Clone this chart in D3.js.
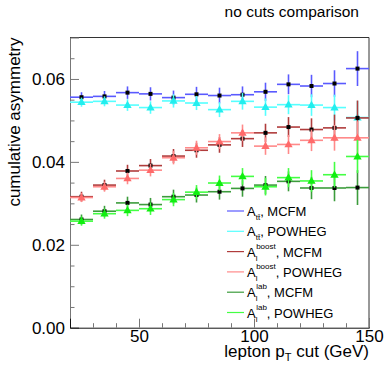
<!DOCTYPE html>
<html>
<head>
<meta charset="utf-8">
<script src="https://cdn.jsdelivr.net/npm/d3@7"></script>
<style>
	body { margin: 0; background: #fff; }
	svg text { font-family: "Liberation Sans", Arial, sans-serif; fill: #000; }
</style>
</head>
<body>
<div id="chart"></div>
<script>
// lepton pT cut bins (GeV), each bin is 10 GeV wide
var cuts = [25, 35, 45, 55, 65, 75, 85, 95, 105, 115, 125, 135, 145];
var binHalf = 5;

// cumulative asymmetries
var ttMCFM      = [0.0556, 0.0558, 0.0567, 0.0564, 0.0555, 0.0563, 0.0560, 0.0562, 0.0569, 0.0587, 0.0583, 0.0589, 0.0625];
var ttPOWHEG    = [0.0544, 0.0546, 0.0537, 0.0531, 0.0547, 0.0542, 0.0526, 0.0546, 0.0532, 0.0538, 0.0537, 0.0531, 0.0507];
var boostMCFM   = [0.0316, 0.0344, 0.0378, 0.0391, 0.0414, 0.0428, 0.0441, 0.0456, 0.0470, 0.0484, 0.0478, 0.0482, 0.0506];
var boostPOWHEG = [0.0314, 0.0340, 0.0360, 0.0380, 0.0410, 0.0434, 0.0449, 0.0470, 0.0438, 0.0442, 0.0452, 0.0458, 0.0458];
var labMCFM     = [0.0261, 0.0281, 0.0301, 0.0297, 0.0316, 0.0320, 0.0328, 0.0336, 0.0344, 0.0353, 0.0337, 0.0337, 0.0338];
var labPOWHEG   = [0.0257, 0.0275, 0.0283, 0.0287, 0.0309, 0.0327, 0.0349, 0.0365, 0.0340, 0.0362, 0.0354, 0.0369, 0.0413];

// statistical errors
var errMCFM   = [0.0012, 0.0013, 0.0015, 0.0016, 0.0017, 0.0018, 0.0019, 0.0020, 0.0022, 0.0024, 0.0027, 0.0032, 0.0042];
var errPOWHEG = [0.0011, 0.0012, 0.0014, 0.0015, 0.0016, 0.0017, 0.0018, 0.0020, 0.0021, 0.0023, 0.0026, 0.0031, 0.0040];

// axis ticks
var xMajor = [50, 100, 150];
var xMinor = [30, 40, 60, 70, 80, 90, 110, 120, 130, 140];
var yMajor = [0, 0.02, 0.04, 0.06];
var yMinor = [0.005, 0.01, 0.015, 0.025, 0.03, 0.035, 0.045, 0.05, 0.055, 0.065];

var series = [
	{ vals: ttMCFM,      err: errMCFM,   line: "#5a5aff", fill: "#000",    marker: "square",   sub: "t\u0074\u0304", sup: "", gen: "MCFM" },
	{ vals: ttPOWHEG,    err: errPOWHEG, line: "#55ffff", fill: "#22eeee", marker: "triangle", sub: "t\u0074\u0304", sup: "", gen: "POWHEG" },
	{ vals: boostMCFM,   err: errMCFM,   line: "#b03c3c", fill: "#000",    marker: "square",   sub: "l", sup: "boost", gen: "MCFM" },
	{ vals: boostPOWHEG, err: errPOWHEG, line: "#ff8a8a", fill: "#ff6a6a", marker: "triangle", sub: "l", sup: "boost", gen: "POWHEG" },
	{ vals: labMCFM,     err: errMCFM,   line: "#3c9c3c", fill: "#000",    marker: "square",   sub: "l", sup: "lab", gen: "MCFM" },
	{ vals: labPOWHEG,   err: errPOWHEG, line: "#44ff44", fill: "#11ee11", marker: "triangle", sub: "l", sup: "lab", gen: "POWHEG" }
];

var W = 389, H = 373;
var plot = { left: 70, right: 369, top: 37.5, bottom: 327.7 };

var svg = d3.select("#chart").append("svg")
	.attr("width", W)
	.attr("height", H);

var x = d3.scaleLinear().domain([20, 150]).range([plot.left, plot.right]);
var y = d3.scaleLinear().domain([0, 0.07]).range([plot.bottom, plot.top]);

// frame top / right
svg.append("path")
	.attr("d", "M" + plot.left + "," + plot.top + "H" + plot.right + "V" + plot.bottom)
	.attr("fill", "none")
	.attr("stroke", "#333")
	.attr("stroke-width", 1);

// y axis
var yAxis = svg.append("g")
	.attr("transform", "translate(" + plot.left + ",0)")
	.call(d3.axisLeft(y).tickValues(yMajor).tickFormat(d3.format(".2f")).tickSize(-9).tickPadding(5));
svg.append("g")
	.attr("transform", "translate(" + plot.left + ",0)")
	.call(d3.axisLeft(y).tickValues(yMinor).tickFormat("").tickSize(-4.5))
	.call(function (g) { g.select(".domain").remove(); });

// x axis
var xAxis = svg.append("g")
	.attr("transform", "translate(0," + plot.bottom + ")")
	.call(d3.axisBottom(x).tickValues(xMajor).tickSize(-9).tickPadding(2));
svg.append("g")
	.attr("transform", "translate(0," + plot.bottom + ")")
	.call(d3.axisBottom(x).tickValues(xMinor).tickFormat("").tickSize(-4.5))
	.call(function (g) { g.select(".domain").remove(); });

svg.selectAll(".tick line").attr("stroke", "#777");
yAxis.select(".domain").attr("stroke", "#777");
xAxis.select(".domain").attr("stroke", "#111");
svg.selectAll(".tick text").attr("font-size", 17).attr("fill", "#000");

// axis titles
svg.append("text")
	.attr("transform", "translate(20," + plot.top + ") rotate(-90)")
	.attr("text-anchor", "end")
	.attr("font-size", 17)
	.text("cumulative asymmetry");

var xt = svg.append("text")
	.attr("x", plot.right)
	.attr("y", 357)
	.attr("text-anchor", "end")
	.attr("font-size", 17);
xt.append("tspan").text("lepton p");
xt.append("tspan").attr("font-size", 11).attr("dy", 4).text("T");
xt.append("tspan").attr("dy", -4).text(" cut (GeV)");

// title
svg.append("text")
	.attr("x", 359)
	.attr("y", 17)
	.attr("text-anchor", "end")
	.attr("font-size", 15.5)
	.text("no cuts comparison");

// error bars and markers
var tri = d3.symbol().type(d3.symbolTriangle).size(30);

series.forEach(function (s) {
	var g = svg.append("g");
	var pts = cuts.map(function (c, i) { return { c: c, v: s.vals[i], e: s.err[i] }; });

	g.selectAll(".hbar")
		.data(pts)
		.enter().append("line")
		.attr("x1", function (d) { return x(d.c - binHalf); })
		.attr("x2", function (d) { return x(d.c + binHalf); })
		.attr("y1", function (d) { return y(d.v); })
		.attr("y2", function (d) { return y(d.v); })
		.attr("stroke", s.line)
		.attr("stroke-width", 1.6);

	g.selectAll(".vbar")
		.data(pts)
		.enter().append("line")
		.attr("x1", function (d) { return x(d.c); })
		.attr("x2", function (d) { return x(d.c); })
		.attr("y1", function (d) { return y(d.v - d.e); })
		.attr("y2", function (d) { return y(d.v + d.e); })
		.attr("stroke", s.line)
		.attr("stroke-width", 1.6);

	if (s.marker === "square") {
		g.selectAll(".sq")
			.data(pts)
			.enter().append("rect")
			.attr("x", function (d) { return x(d.c) - 2; })
			.attr("y", function (d) { return y(d.v) - 2; })
			.attr("width", 4)
			.attr("height", 4)
			.attr("fill", s.fill);
	} else {
		g.selectAll(".tri")
			.data(pts)
			.enter().append("path")
			.attr("d", tri)
			.attr("transform", function (d) { return "translate(" + x(d.c) + "," + (y(d.v) + 0.5) + ")"; })
			.attr("fill", s.fill);
	}
});

// legend: A with stacked super/subscript, built from separate text pieces
var legX = 247, legY0 = 211, legStep = 20.3;
var leg = svg.append("g");
series.forEach(function (s, i) {
	var ly = legY0 + i * legStep;
	leg.append("line")
		.attr("x1", 227).attr("x2", 244)
		.attr("y1", ly).attr("y2", ly)
		.attr("stroke", s.line)
		.attr("stroke-width", 1.2);

	var a = leg.append("text").attr("x", legX).attr("y", ly + 5).attr("font-size", 13).text("A");
	var xa = legX + a.node().getComputedTextLength();
	var wSup = 0, wSub = 0;
	if (s.sup) {
		var sp = leg.append("text").attr("x", xa + 0.5).attr("y", ly - 3).attr("font-size", 8).text(s.sup);
		wSup = sp.node().getComputedTextLength() + 0.5;
	}
	var sb = leg.append("text").attr("x", xa).attr("y", ly + 9).attr("font-size", 8).text(s.sub);
	wSub = sb.node().getComputedTextLength();
	leg.append("text")
		.attr("x", xa + Math.max(wSup, wSub))
		.attr("y", ly + 5)
		.attr("font-size", 13)
		.text(", " + s.gen);
});
</script>
</body>
</html>
